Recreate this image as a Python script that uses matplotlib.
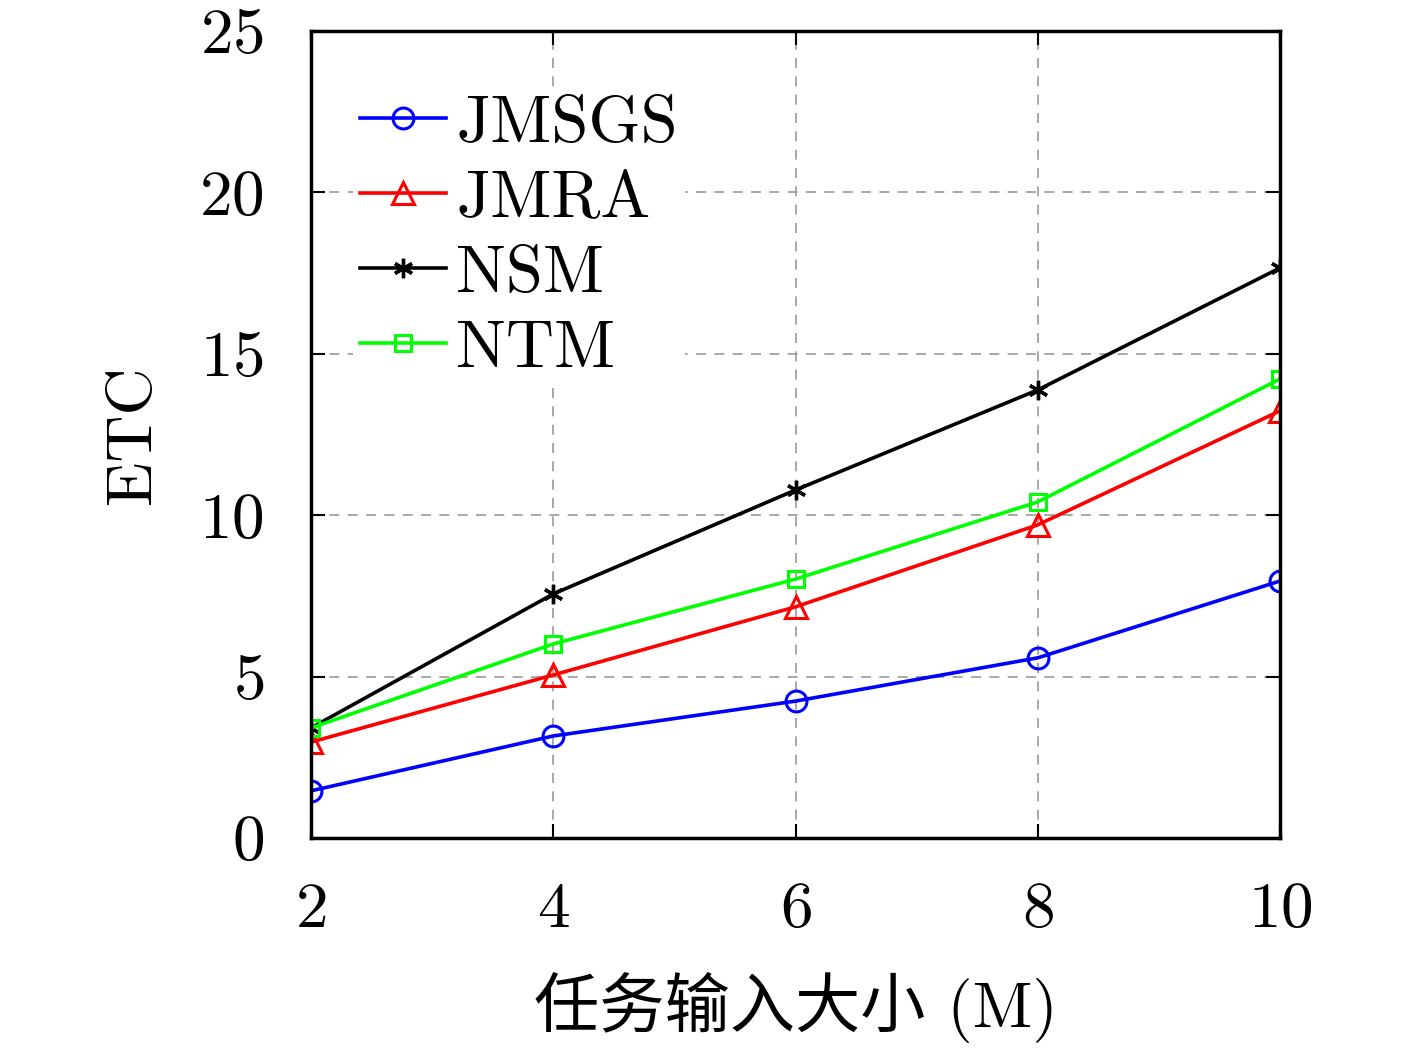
import numpy as np
import matplotlib
matplotlib.use('Agg')
import matplotlib.pyplot as plt

plt.rcParams['font.family'] = ['cmr10', 'Noto Sans CJK SC', 'DejaVu Serif']
plt.rcParams['mathtext.fontset'] = 'cm'
plt.rcParams['axes.formatter.use_mathtext'] = True

# 数据
task_size = [2, 4, 6, 8, 10]
etc_jmsgs = [1.46, 3.16, 4.24, 5.58, 7.96]
etc_jmra = [2.97, 5.05, 7.16, 9.70, 13.23]
etc_nsm = [3.41, 7.56, 10.78, 13.88, 17.66]
etc_ntm = [3.41, 6.01, 8.02, 10.41, 14.22]
x_ticks = [2, 4, 6, 8, 10]
y_ticks = [0, 5, 10, 15, 20, 25]

fig = plt.figure(figsize=(14.17, 10.51), dpi=100)
ax = fig.add_axes([0.2195, 0.2027, 0.9033 - 0.2195, 0.9705 - 0.2027])

ax.plot(task_size, etc_jmsgs, color='#0000ff', marker='o', ms=15, mfc='none',
        mew=2.2, lw=2.6, label='JMSGS')
ax.plot(task_size, etc_jmra, color='#ff0000', marker='^', ms=16, mfc='none',
        mew=2.2, lw=2.6, label='JMRA')
ax.plot(task_size, etc_nsm, color='black', marker=(6, 2, 0), ms=14,
        mew=2.4, lw=2.6, label='NSM')
ax.plot(task_size, etc_ntm, color='#00ff00', marker='s', ms=11, mfc='none',
        mew=2.2, lw=2.6, label='NTM')

ax.set_xlim(2, 10)
ax.set_ylim(0, 25)
ax.set_xticks(x_ticks)
ax.set_yticks(y_ticks)
ax.tick_params(direction='in', length=10, width=1.5, labelsize=47,
               top=True, right=True)
ax.tick_params(axis='x', pad=32)
ax.tick_params(axis='y', pad=34)
ax.grid(True, linestyle=(0, (6, 5)), color='#999999', lw=1.2)
for s in ax.spines.values():
    s.set_linewidth(2.5)

ax.set_xlabel('任务输入大小 (M)', fontsize=47, labelpad=23)
ax.set_ylabel('ETC', fontsize=47, labelpad=26)

leg = ax.legend(loc='upper left', fontsize=48, frameon=True, handlelength=1.3,
                bbox_to_anchor=(0.0434, 0.929), borderaxespad=0, borderpad=0.1,
                handletextpad=0.15, labelspacing=0.23)
leg.get_frame().set_edgecolor('none')
leg.get_frame().set_facecolor('white')
leg.get_frame().set_alpha(1)

fig.savefig('out.png', dpi=100)
